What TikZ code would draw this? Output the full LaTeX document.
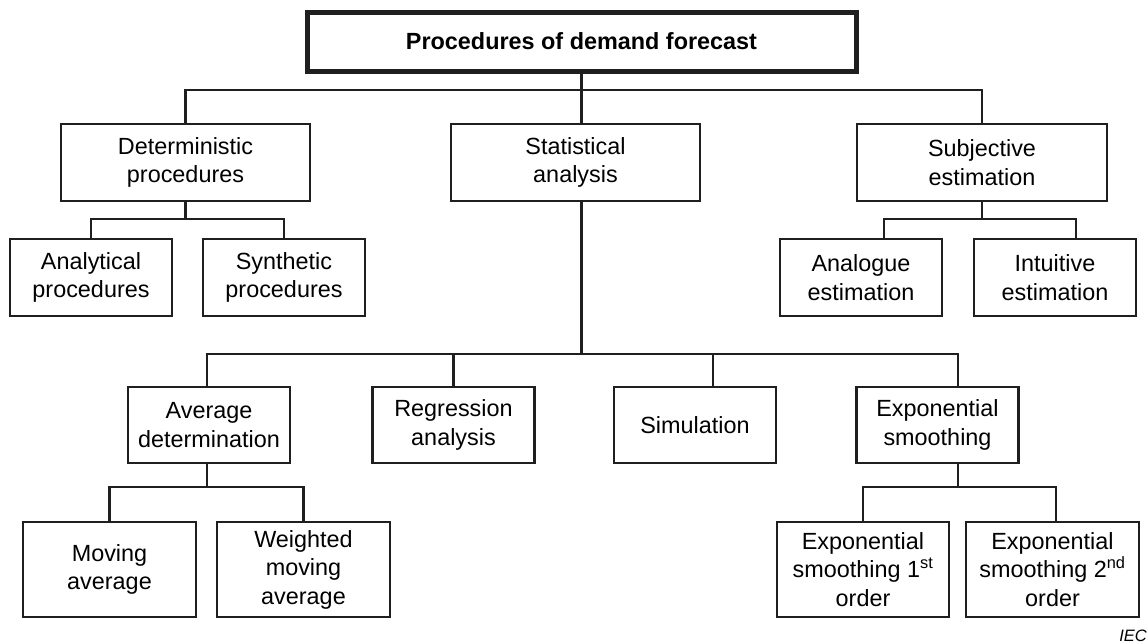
\documentclass[tikz,border=0pt]{standalone}
\usepackage{fontspec}
\setmainfont{Liberation Sans}
\begin{document}
\begin{tikzpicture}[x=1pt,y=-1pt,
  txt/.style={font=\fontsize{23.4}{28.5}\selectfont},
  box/.style={draw=black!88, line width=2.6pt, align=center, inner sep=0pt, txt, minimum height=77pt},
  mainbox/.style={box, minimum width=249pt},
  subbox/.style={box, minimum width=162pt},
  tallbox/.style={box, minimum height=95pt},
  link/.style={draw=black!88, line width=2.6pt},
]
\useasboundingbox (0,0) rectangle (1148,643);

% root
\node[box, line width=5pt, minimum width=549pt, minimum height=59pt,
      font=\bfseries\fontsize{23.4}{28}\selectfont] (root) at (581.5,41.5) {Procedures of demand forecast};

% first level
\node[mainbox] (det)  at (185.5,162.5) {Deterministic\\procedures};
\node[mainbox] (stat) at (575.5,162.5) {Statistical\\analysis};
\node[mainbox, minimum width=250pt] (subj) at (982,162.5) {Subjective\\estimation};

% children of the deterministic and subjective branches
\node[subbox] (ana)    at (91,277.5)   {Analytical\\procedures};
\node[subbox] (syn)    at (284,277.5)  {Synthetic\\procedures};
\node[subbox] (analog) at (861,277.5)  {Analogue\\estimation};
\node[subbox] (intu)   at (1055,277.5) {Intuitive\\estimation};

% statistical methods
\node[subbox, minimum height=76pt] (avg) at (209,425)   {Average\\determination};
\node[subbox, minimum height=76pt] (reg) at (453.5,425) {Regression\\analysis};
\node[subbox, minimum height=76pt] (sim) at (695,425)   {Simulation};
\node[subbox, minimum height=76pt] (exs) at (937.5,425) {Exponential\\smoothing};

% bottom level
\node[tallbox, minimum width=173pt] (mov) at (109.5,569.5)  {Moving\\average};
\node[tallbox, minimum width=173pt] (wmov) at (303.5,569.5) {Weighted\\moving\\average};
\node[tallbox, minimum width=172pt] (ex1) at (863,569.5)    {Exponential\\smoothing 1\textsuperscript{st}\\order};
\node[tallbox, minimum width=173pt] (ex2) at (1052.5,569.5) {Exponential\\smoothing 2\textsuperscript{nd}\\order};

% bus heights
\coordinate (bus1) at (0,90);
\coordinate (bus2) at (0,219);
\coordinate (bus3) at (0,354);
\coordinate (bus4) at (0,487);

% connector attachment points
\coordinate (statB)  at ([xshift=6pt]stat.south);
\coordinate (analogT) at ([xshift=23pt]analog.north);
\coordinate (intuT)  at ([xshift=21pt]intu.north);
\coordinate (avgT)   at ([xshift=-2pt]avg.north);
\coordinate (avgB)   at ([xshift=-2pt]avg.south);
\coordinate (simT)   at ([xshift=18pt]sim.north);
\coordinate (exsT)   at ([xshift=20.5pt]exs.north);
\coordinate (exsB)   at ([xshift=20.5pt]exs.south);
\coordinate (ex2T)   at ([xshift=3.5pt]ex2.north);

% root to first level
\draw[link] (root.south) -- (root.south |- stat.north);
\draw[link] (det.north) |- (subj.north |- bus1) -- (subj.north);

% deterministic branch
\draw[link] (det.south) -- (det.south |- bus2);
\draw[link] (ana.north) |- (syn.north |- bus2) -- (syn.north);

% subjective branch
\draw[link] (subj.south) -- (subj.south |- bus2);
\draw[link] (analogT) |- (intuT |- bus2) -- (intuT);

% statistical branch
\draw[link] (statB) -- (statB |- bus3);
\draw[link] (avgT) |- (exsT |- bus3) -- (exsT);
\draw[link] (reg.north) -- (reg.north |- bus3);
\draw[link] (simT) -- (simT |- bus3);

% average determination
\draw[link] (avgB) -- (avgB |- bus4);
\draw[link] (mov.north) |- (wmov.north |- bus4) -- (wmov.north);

% exponential smoothing
\draw[link] (exsB) -- (exsB |- bus4);
\draw[link] (ex1.north) |- (ex2T |- bus4) -- (ex2T);

% source mark
\node[anchor=base east, inner sep=0pt, font=\itshape\fontsize{16.5}{19}\selectfont] (iec) at (1147,641) {IEC};
\end{tikzpicture}
\end{document}
